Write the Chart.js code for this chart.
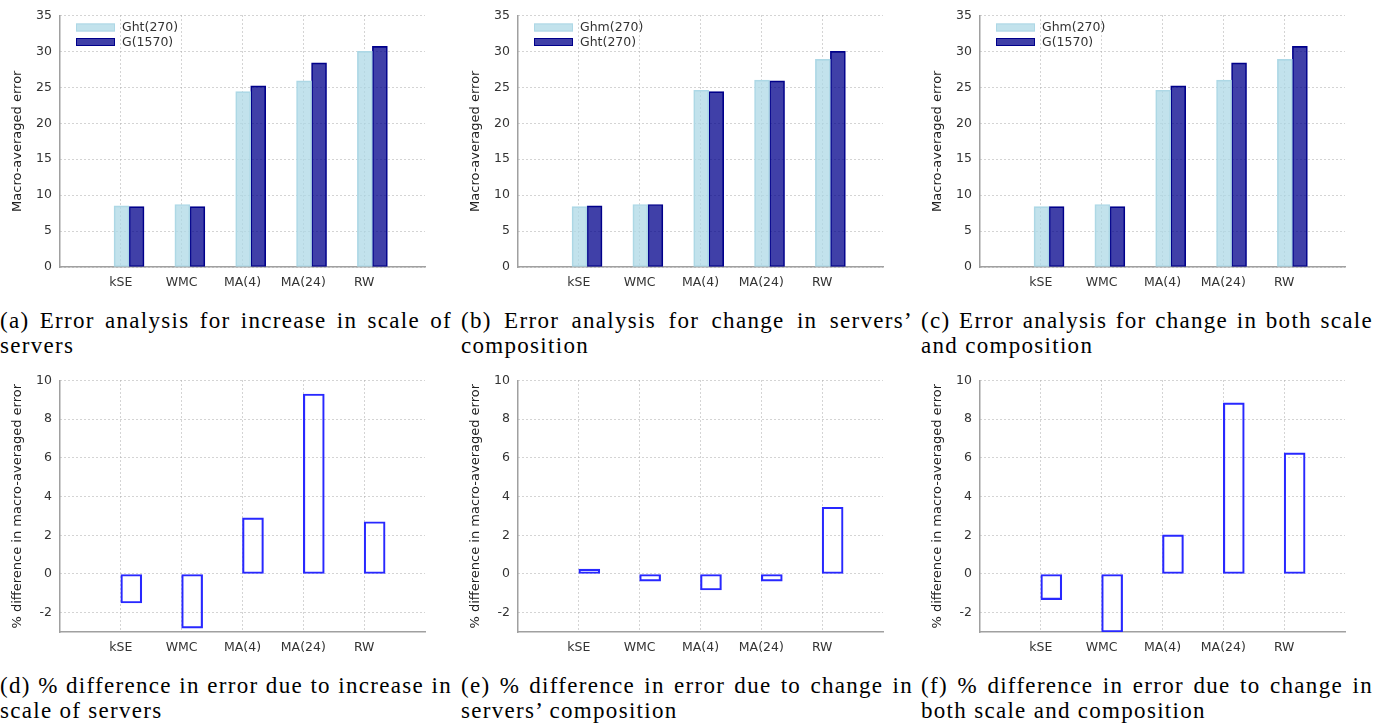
<!DOCTYPE html>
<html>
<head>
<meta charset="utf-8">
<script src="https://cdn.jsdelivr.net/npm/chart.js@4.4.0/dist/chart.umd.min.js"></script>
<style>
  body { margin: 0; background: #fff; width: 1387px; height: 726px; position: relative; overflow: hidden; }
  canvas { position: absolute; }
  .cap { position: absolute; width: 452px; font-family: "Liberation Serif", serif; font-size: 23px; line-height: 25px; letter-spacing: 1.3px; color: #000; }
  .cap .l1 { text-align: justify; text-align-last: justify; white-space: nowrap; }
</style>
</head>
<body>
<canvas id="chartA" width="440" height="300" style="left:0px;top:0px"></canvas>
<canvas id="chartB" width="440" height="300" style="left:458px;top:0px"></canvas>
<canvas id="chartC" width="440" height="300" style="left:920px;top:0px"></canvas>
<canvas id="chartD" width="440" height="300" style="left:0px;top:365px"></canvas>
<canvas id="chartE" width="440" height="300" style="left:458px;top:365px"></canvas>
<canvas id="chartF" width="440" height="300" style="left:920px;top:365px"></canvas>

<div class="cap" style="left:0px;top:308px"><div class="l1">(a) Error analysis for increase in scale of</div><div>servers</div></div>
<div class="cap" style="left:461px;top:308px"><div class="l1">(b) Error analysis for change in servers’</div><div>composition</div></div>
<div class="cap" style="left:921px;top:308px"><div class="l1">(c) Error analysis for change in both scale</div><div>and composition</div></div>
<div class="cap" style="left:0px;top:673px"><div class="l1">(d) % difference in error due to increase in</div><div>scale of servers</div></div>
<div class="cap" style="left:461px;top:673px"><div class="l1">(e) % difference in error due to change in</div><div>servers’ composition</div></div>
<div class="cap" style="left:921px;top:673px"><div class="l1">(f) % difference in error due to change in</div><div>both scale and composition</div></div>

<script>
// Categories and tick values
const categories = ['kSE', 'WMC', 'MA(4)', 'MA(24)', 'RW'];
const errTicks = [0, 5, 10, 15, 20, 25, 30, 35];
const diffTicks = [-2, 0, 2, 4, 6, 8, 10];

// Macro-averaged error per graph
const ghtErr = [8.5, 8.7, 24.4, 25.9, 30.0];    // Ght(270)
const gErr = [8.4, 8.4, 25.2, 28.4, 30.7];      // G(1570)
const ghmErr = [8.4, 8.7, 24.6, 26.0, 28.9];    // Ghm(270)

// % difference in macro-averaged error (bottom row)
const diffScale = [-1.5, -2.8, 2.9, 9.3, 2.7];
const diffComposition = [0.25, -0.37, -0.83, -0.37, 3.45];
const diffBoth = [-1.33, -3.0, 2.02, 8.84, 6.26];

const FONT = '"DejaVu Sans", Verdana, sans-serif';
const TEXT = '#333';
const GRID = '#a8a8a8';
const AXIS = '#a0a0a0';

const LIGHT_FILL = 'rgba(173, 216, 230, 0.75)';
const LIGHT_LINE = 'rgb(173, 216, 230)';
const DARK_FILL = 'rgba(0, 0, 139, 0.75)';
const DARK_LINE = 'rgb(0, 0, 139)';

// Legend drawn inside the plot area, top-left
const insideLegend = {
    id: 'insideLegend',
    afterDatasetsDraw(chart) {
        const { ctx, chartArea } = chart;
        ctx.save();
        chart.data.datasets.forEach((ds, i) => {
            const x = chartArea.left + 16;
            const y = chartArea.top + 8 + i * 14.5;
            ctx.fillStyle = ds.backgroundColor;
            ctx.fillRect(x, y, 39, 8);
            ctx.strokeStyle = ds.borderColor;
            ctx.lineWidth = 1;
            ctx.strokeRect(x + 0.5, y + 0.5, 38, 7);
            ctx.fillStyle = TEXT;
            ctx.font = '12.5px ' + FONT;
            ctx.textBaseline = 'middle';
            ctx.fillText(ds.label, x + 46, y + 4.5);
        });
        ctx.restore();
    }
};

const toPoints = (values) => values.map((v, i) => ({ x: i + 1, y: v }));

// Shared axis settings
const buildScales = (shift, yMin, yMax, yTicks, yTitle) => ({
    x: {
        type: 'linear',
        offset: false,
        min: 0,
        max: categories.length + 1,
        afterBuildTicks: (s) => { s.ticks = categories.map((c, i) => ({ value: i + 1 })); },
        afterFit: (s) => { s.height = 33; },
        ticks: {
            callback: (v) => categories[v - 1],
            font: { family: FONT, size: 12.5 },
            color: TEXT,
            padding: 8,
            maxRotation: 0,
            autoSkip: false
        },
        grid: { color: GRID, drawTicks: false, offset: false },
        border: { color: AXIS, width: 1.5, dash: [1, 3] }
    },
    xb: {
        type: 'linear',
        display: false,
        offset: false,
        grid: { offset: false },
        min: -shift,
        max: categories.length + 1 - shift
    },
    y: {
        min: yMin,
        max: yMax,
        afterBuildTicks: (s) => { s.ticks = yTicks.map(v => ({ value: v })); },
        afterFit: (s) => { s.width = 60; },
        ticks: {
            font: { family: FONT, size: 12.5 },
            color: TEXT,
            padding: 8
        },
        grid: { color: GRID, drawTicks: false },
        border: { color: AXIS, width: 1.5, dash: [1, 3] },
        title: {
            display: true,
            text: yTitle,
            font: { family: FONT, size: 13 },
            color: '#222',
            padding: { top: 10, bottom: 0 }
        }
    }
});

const baseOptions = (scales) => ({
    responsive: false,
    animation: false,
    layout: { padding: { top: 12, right: 15, left: 0, bottom: 0 } },
    plugins: { legend: { display: false }, tooltip: { enabled: false } },
    scales
});

// Top row: two grouped bar series
const createErrorChart = (canvasId, lightLabel, lightValues, darkLabel, darkValues) => {
    const ctx = document.getElementById(canvasId).getContext('2d');
    new Chart(ctx, {
        type: 'bar',
        data: {
            datasets: [{
                label: lightLabel,
                data: toPoints(lightValues),
                xAxisID: 'xb',
                backgroundColor: LIGHT_FILL,
                borderColor: LIGHT_LINE,
                borderWidth: 1,
                borderSkipped: false,
                barThickness: 15
            }, {
                label: darkLabel,
                data: toPoints(darkValues),
                xAxisID: 'xb',
                backgroundColor: DARK_FILL,
                borderColor: DARK_LINE,
                borderWidth: 1,
                borderSkipped: false,
                barThickness: 15
            }]
        },
        options: baseOptions(buildScales(0.135, 0, 35, errTicks, 'Macro-averaged error')),
        plugins: [insideLegend]
    });
};

// Bottom row: single outlined bar series
const createDiffChart = (canvasId, values) => {
    const ctx = document.getElementById(canvasId).getContext('2d');
    new Chart(ctx, {
        type: 'bar',
        data: {
            datasets: [{
                label: '% difference',
                data: toPoints(values),
                xAxisID: 'xb',
                backgroundColor: 'rgba(0, 0, 0, 0)',
                borderColor: 'rgb(40, 40, 255)',
                borderWidth: 1.5,
                borderSkipped: false,
                barThickness: 21
            }]
        },
        options: baseOptions(buildScales(0.172, -3, 10, diffTicks, '% difference in macro-averaged error'))
    });
};

createErrorChart('chartA', 'Ght(270)', ghtErr, 'G(1570)', gErr);
createErrorChart('chartB', 'Ghm(270)', ghmErr, 'Ght(270)', ghtErr);
createErrorChart('chartC', 'Ghm(270)', ghmErr, 'G(1570)', gErr);

createDiffChart('chartD', diffScale);
createDiffChart('chartE', diffComposition);
createDiffChart('chartF', diffBoth);
</script>
</body>
</html>
